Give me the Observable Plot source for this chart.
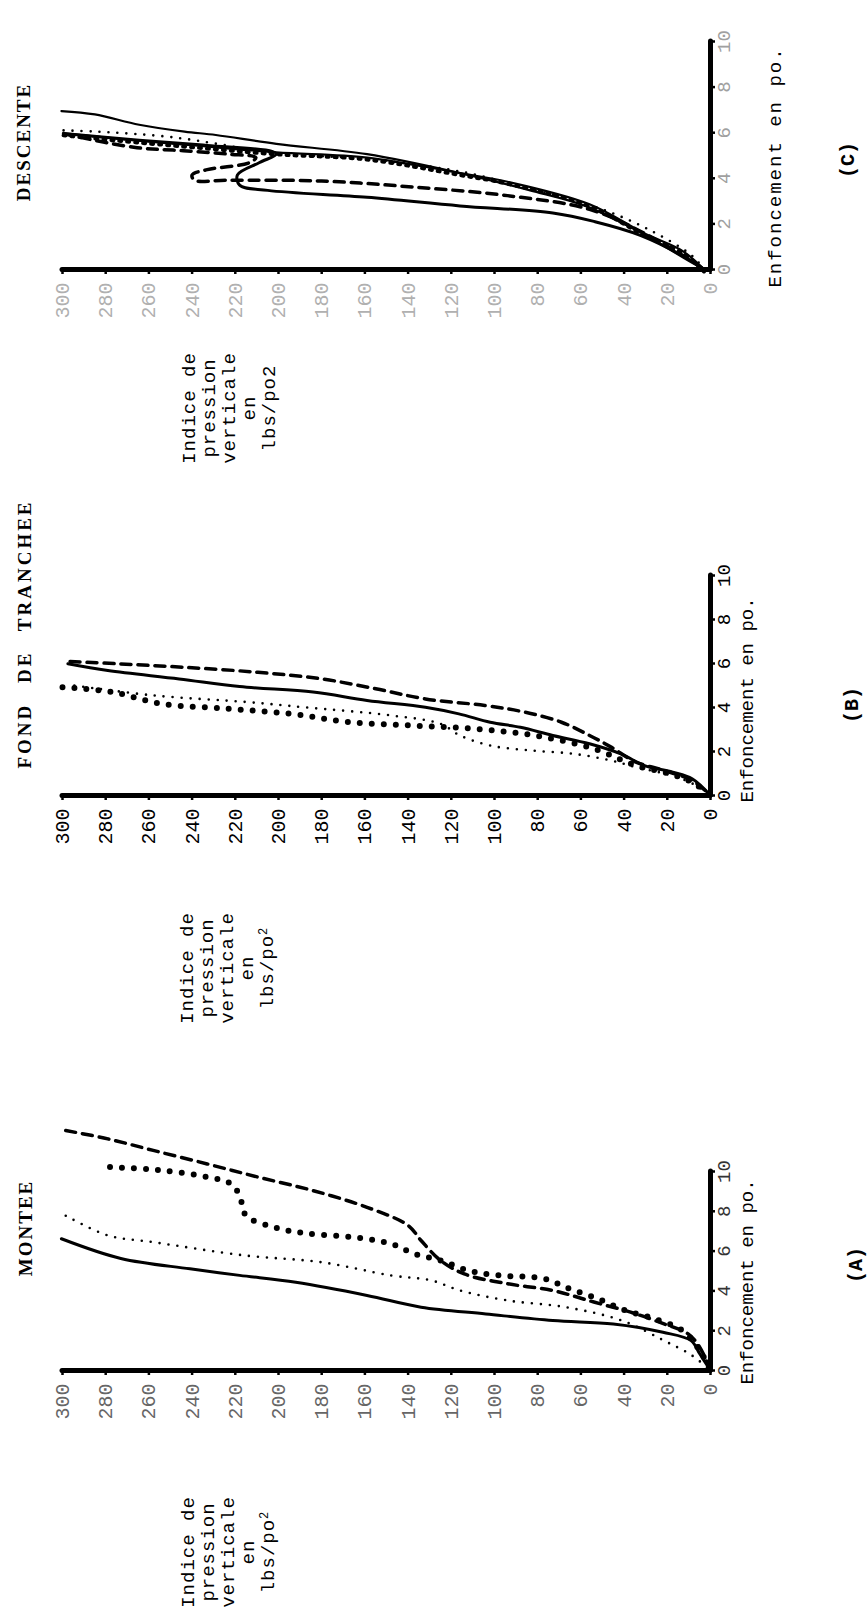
<!DOCTYPE html>
<html><head><meta charset="utf-8">
<script src="https://cdn.jsdelivr.net/npm/d3@7"></script>
<script src="https://cdn.jsdelivr.net/npm/@observablehq/plot@0.6"></script>
<style>
body{margin:0;background:#fff;}
#page{position:relative;width:867px;height:1615px;overflow:hidden;background:#fff;}
#page svg{position:absolute;left:0;top:0;}
.rot{position:absolute;transform:translate(-50%,-50%) rotate(-90deg);white-space:nowrap;color:#000;}
.title{font-family:"Liberation Serif",serif;font-weight:bold;font-size:19px;letter-spacing:2px;}
.mono{font-family:"Liberation Mono",monospace;font-size:19px;line-height:20px;letter-spacing:1px;text-align:center;}
.axt{font-family:"Liberation Mono",monospace;font-size:19px;}
.tag{font-family:"Liberation Mono",monospace;font-weight:bold;font-size:20px;}
sup{font-size:12px;vertical-align:6px;line-height:0;}
</style></head><body><div id="page"></div>
<script>
// ---- data (pressure lbs/po2, depth po) ----
const pressureTicks = [300,280,260,240,220,200,180,160,140,120,100,80,60,40,20,0];
const depthTicks = [0,2,4,6,8,10];
const panelTitles = ["DESCENTE","FOND DE TRANCHEE","MONTEE"];
const panelTags = ["(C)","(B)","(A)"];

// (A) MONTEE
const monteeSolid = [[300.5,6.62],[273,5.63],[241,5.11],[218,4.78],[192,4.43],[159,3.77],[134,3.18],[104,2.84],[73,2.51],[45,2.34],[22,1.92],[9,1.5],[5,0.84],[0,0]];
const monteeFineDot = [[298.5,7.78],[279,6.79],[258,6.45],[215.5,5.78],[180,5.44],[148,4.78],[129,4.52],[116,4.02],[94,3.52],[67,3.18],[41,2.51],[21.5,1.5],[8.5,0.75],[0,0]];
const monteeBigDot = [[278,10.22],[256,10.08],[233,9.72],[222,9.38],[218,8.79],[215,7.78],[202,7.2],[188,6.9],[163,6.67],[148,6.37],[137,5.86],[125,5.53],[112,5.02],[98,4.78],[77,4.61],[65,4.1],[52,3.6],[39.5,3.02],[26,2.6],[13,2.01],[5,1.01],[0,0]];
const monteeDashed = [[298.5,12.06],[279,11.64],[258,11.06],[233,10.38],[209.5,9.72],[184,9.04],[159,8.2],[140,7.29],[134,6.53],[125,5.53],[114,4.85],[94,4.36],[73,4.02],[54,3.44],[37,2.93],[21.5,2.34],[10.5,1.85],[5,1.17],[0,0]];

// (B) FOND DE TRANCHEE
const fondSolid = [[297.5,5.99],[279,5.68],[246,5.3],[218,4.95],[184,4.7],[159,4.32],[132,4.01],[116.5,3.71],[102,3.33],[88,3.1],[73,2.73],[56,2.35],[41.5,1.89],[30.5,1.36],[17.5,1.06],[8.5,0.76],[0,0]];
const fondDashed = [[296.5,6.09],[275,5.99],[244,5.83],[209.5,5.6],[180,5.3],[155,4.85],[132,4.39],[104.5,4.09],[86,3.79],[69,3.33],[56,2.73],[46,2.2],[34.5,1.52],[21.5,1.14],[8.5,0.68],[0,0]];
const fondBigDot = [[300,4.92],[277,4.7],[254,4.17],[223,3.94],[194,3.71],[167,3.33],[138,3.18],[109,3.03],[81.5,2.73],[54,2.12],[34.5,1.36],[19.5,1.0],[8.5,0.6],[0,0]];
const fondFineDot = [[294.5,5.0],[258,4.55],[213.5,4.24],[188,4.01],[148,3.64],[125,3.26],[116,2.73],[102,2.27],[83.5,2.05],[63,1.89],[46,1.59],[34.5,1.29],[19.5,0.95],[8.5,0.55],[0,0]];

// (C) DESCENTE
const descenteUpper = [[300.5,6.95],[285,6.8],[264.5,6.35],[243.5,6.05],[229,5.9],[201,5.51],[159,5.06],[116,4.23],[83.5,3.47],[58,2.79],[34.5,1.73],[8.5,0.29],[3,0]];
const descenteTri = [[299.5,5.97],[275,5.74],[239,5.44],[201,5.14],[159,4.91],[116,4.23],[94,3.85],[56,2.86],[30.5,1.58],[13,0.82],[3,0]];
const descenteLoop = [[299.5,5.97],[264.5,5.67],[233,5.44],[203,5.18],[201,5.06],[209,4.68],[219,4.15],[218,3.7],[205,3.47],[159,3.17],[116,2.79],[73,2.48],[54,2.11],[32.5,1.5],[8.5,0.36],[3,0]];
const descenteDashed = [[299.5,5.95],[267,5.36],[244,5.21],[223,5.06],[210.5,4.91],[213.5,4.68],[233,4.38],[240,4.15],[239,3.92],[223,3.92],[180,3.88],[138,3.62],[94,3.24],[56,2.64],[30.5,1.58],[8.5,0.36],[3,0]];
const descenteDot = [[299.5,6.1],[285,6.05],[249,5.8],[201,5.1],[184,4.99],[159,4.85],[116,4.3],[86,3.6],[52,2.7],[28.5,1.75],[8.5,0.6],[3,0]];

// ---- styles ----
const toRows = a => a.map(([p,d]) => ({p, d}));
const ST = {
  solid:   {stroke:"#000", strokeWidth:3},
  thin:    {stroke:"#000", strokeWidth:2.2},
  dashed:  {stroke:"#000", strokeWidth:3.5, strokeDasharray:"10,7"},
  bigdot:  {stroke:"#000", strokeWidth:6, strokeDasharray:"0,12", strokeLinecap:"round"},
  finedot: {stroke:"#000", strokeWidth:2.6, strokeDasharray:"0,9", strokeLinecap:"round"}
};

const W = 867, H = 1615, X300 = 62, X0 = 710;
const panels = [
  {y0:269,  y10:41,   tickFill:"#b0b0b0", depthFill:"#a0a0a0",
   series:[[descenteUpper,"thin"],[descenteLoop,"solid"],[descenteDashed,"dashed"],[descenteDot,"finedot"],[descenteTri,"thin"]], tri: descenteTri},
  {y0:795,  y10:575,  tickFill:"#000", depthFill:"#000",
   series:[[fondSolid,"solid"],[fondDashed,"dashed"],[fondBigDot,"bigdot"],[fondFineDot,"finedot"]]},
  {y0:1370, y10:1171, tickFill:"#666", depthFill:"#333",
   series:[[monteeSolid,"solid"],[monteeFineDot,"finedot"],[monteeBigDot,"bigdot"],[monteeDashed,"dashed"]]}
];

const page = document.getElementById("page");
for (const P of panels) {
  const marks = [];
  for (const [arr, st] of P.series) {
    marks.push(Plot.line(toRows(arr), {x:"p", y:"d", curve:"catmull-rom", ...ST[st]}));
  }
  if (P.tri) {
    marks.push(Plot.line(toRows(P.tri), {x:"p", y:"d", curve:"catmull-rom", stroke:"#000", strokeWidth:4, strokeDasharray:"2,6", dy:2}));
  }
  marks.push(
    Plot.ruleY([0], {x1:300, x2:0, stroke:"#000", strokeWidth:5, strokeLinecap:"round"}),
    Plot.ruleX([0], {y1:0, y2:10, stroke:"#000", strokeWidth:5, strokeLinecap:"round"}),
    Plot.axisX(pressureTicks, {anchor:"bottom", label:null, tickRotate:-90, tickSize:5, tickPadding:8, strokeWidth:2.5,
      fill:P.tickFill, stroke:"#000", fontSize:20, fontFamily:"Liberation Mono", tickFormat:d=>String(d)}),
    Plot.axisY(depthTicks, {anchor:"right", label:null, tickRotate:-90, textAnchor:"middle", lineAnchor:"top", tickSize:4, tickPadding:2, strokeWidth:2.5,
      fill:P.depthFill, stroke:"#000", fontSize:19, fontFamily:"Liberation Mono", tickFormat:d=>String(d)})
  );
  const svg = Plot.plot({
    width:W, height:H,
    marginLeft:X300, marginRight:W - X0, marginTop:P.y10, marginBottom:H - P.y0,
    x:{domain:[300,0]}, y:{domain:[0,10]},
    style:{background:"transparent", overflow:"visible", fontFamily:"Liberation Mono", fontSize:"20px"},
    marks
  });
  page.appendChild(svg);
}

function label(html, cls, cx, cy) {
  const d = document.createElement("div");
  d.className = "rot " + cls;
  d.innerHTML = html;
  d.style.left = cx + "px"; d.style.top = cy + "px";
  page.appendChild(d);
  return d;
}
// panel titles
label(panelTitles[0], "title", 24, 142);
const fd = label(panelTitles[1], "title", 25, 634); fd.style.letterSpacing = "3px"; fd.style.wordSpacing = "12px";
label(panelTitles[2], "title", 26, 1228);
// pressure axis titles
const ind2 = "Indice de<br>pression<br>verticale<br>en<br>lbs/po<sup>2</sup>";
label("Indice de<br>pression<br>verticale<br>en<br>lbs/po2", "mono", 230, 408);
label(ind2, "mono", 228, 968);
label(ind2, "mono", 229, 1552);
// depth axis titles
const ec = label("Enfoncement en po.", "axt", 776, 167); ec.style.letterSpacing = "2px";
label("Enfoncement en po.", "axt", 748, 700);
label("Enfoncement en po.", "axt", 748, 1282);
// panel tags
label(panelTags[0], "tag", 848, 160);
label(panelTags[1], "tag", 852, 705);
label(panelTags[2], "tag", 856, 1265);
</script></body></html>
